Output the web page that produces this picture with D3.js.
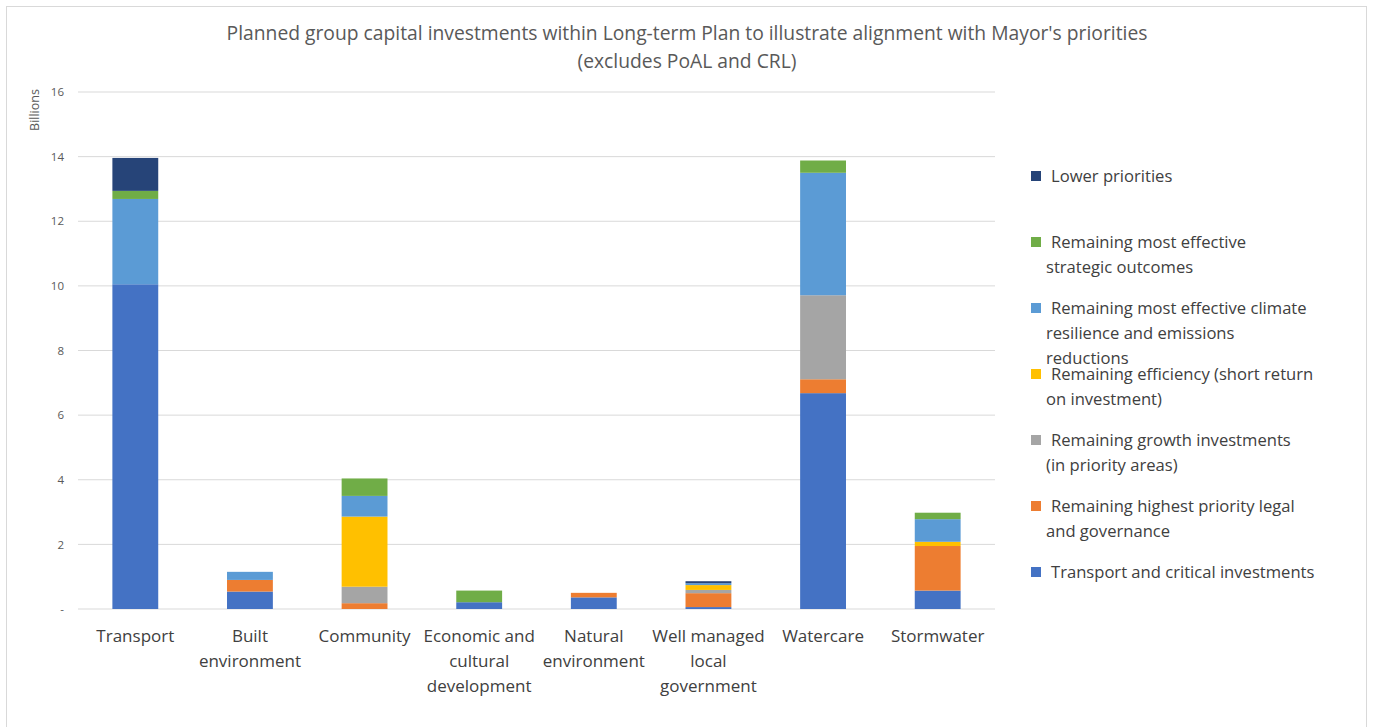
<!DOCTYPE html>
<html>
<head>
<meta charset="utf-8">
<script src="https://cdn.jsdelivr.net/npm/d3@7"></script>
<style>
  body { margin: 0; background: #fff; overflow: hidden; }
  text { font-family: "Open Sans", sans-serif; }
</style>
</head>
<body>
<div id="chart"></div>
<script>
// categories and their wrapped label lines
const categories = ["Transport", "Built environment", "Community", "Economic and cultural development",
  "Natural environment", "Well managed local government", "Watercare", "Stormwater"];
const categoryLines = [["Transport"], ["Built", "environment"], ["Community"], ["Economic and", "cultural", "development"],
  ["Natural", "environment"], ["Well managed", "local", "government"], ["Watercare"], ["Stormwater"]];

// series values (billions), bottom of stack first
const transportCritical = [10.05, 0.54, 0, 0.21, 0.36, 0.06, 6.68, 0.57];
const legalGovernance   = [0, 0.36, 0.18, 0, 0.14, 0.43, 0.43, 1.38];
const growthInvest      = [0, 0, 0.51, 0, 0, 0.10, 2.60, 0];
const efficiency        = [0, 0, 2.17, 0, 0, 0.15, 0, 0.13];
const climateResilience = [2.64, 0.25, 0.64, 0, 0, 0.06, 3.79, 0.70];
const strategicOutcomes = [0.25, 0, 0.54, 0.36, 0, 0, 0.38, 0.20];
const lowerPriorities   = [1.02, 0, 0, 0, 0, 0.06, 0, 0];

const seriesKeys = ["tc", "legal", "growth", "eff", "climate", "strategic", "lower"];
const seriesValues = [transportCritical, legalGovernance, growthInvest, efficiency, climateResilience, strategicOutcomes, lowerPriorities];
const seriesColors = ["#4472C4", "#ED7D31", "#A5A5A5", "#FFC000", "#5B9BD5", "#70AD47", "#264478"];
const legendLines = [
  ["Transport and critical investments"],
  ["Remaining highest priority legal", "and governance"],
  ["Remaining growth investments", "(in priority areas)"],
  ["Remaining efficiency (short return", "on investment)"],
  ["Remaining most effective climate", "resilience and emissions", "reductions"],
  ["Remaining most effective", "strategic outcomes"],
  ["Lower priorities"]
];

const yTicks = [0, 2, 4, 6, 8, 10, 12, 14, 16];

const width = 1373, height = 727;
const margin = { top: 92, right: 378, bottom: 118, left: 78 };
const innerWidth = width - margin.left - margin.right;
const innerHeight = height - margin.top - margin.bottom;

const data = categories.map((c, i) => {
  const row = { cat: c };
  seriesKeys.forEach((k, j) => row[k] = seriesValues[j][i]);
  return row;
});

const svg = d3.select("#chart")
  .append("svg")
    .attr("width", width)
    .attr("height", height)
    .style("display", "block");

// outer frame (bottom edge falls outside the picture)
svg.append("rect")
  .attr("x", 6.5).attr("y", 6.5)
  .attr("width", 1360).attr("height", 730)
  .attr("fill", "none")
  .attr("stroke", "#d9d9d9");

// title
svg.append("text")
  .attr("x", 687).attr("y", 40)
  .attr("text-anchor", "middle")
  .attr("font-size", 19.3)
  .attr("fill", "#595959")
  .selectAll("tspan")
  .data(["Planned group capital investments within Long-term Plan to illustrate alignment with Mayor's priorities", "(excludes PoAL and CRL)"])
  .join("tspan")
    .attr("x", 687)
    .attr("dy", (d, i) => i === 0 ? 0 : 28)
    .text(d => d);

const innerChart = svg.append("g")
  .attr("transform", `translate(${margin.left}, ${margin.top})`);

const xScale = d3.scaleBand()
  .domain(categories)
  .range([0, innerWidth])
  .paddingInner(0.6)
  .paddingOuter(0.3);

const yScale = d3.scaleLinear()
  .domain([0, 16])
  .range([innerHeight, 0]);

// gridlines
innerChart.append("g")
  .selectAll("line")
  .data(yTicks)
  .join("line")
    .attr("x1", 0).attr("x2", innerWidth)
    .attr("y1", d => yScale(d)).attr("y2", d => yScale(d))
    .attr("stroke", "#d9d9d9")
    .attr("stroke-width", 1);

const stackGenerator = d3.stack().keys(seriesKeys);
const annotatedData = stackGenerator(data);

annotatedData.forEach((series, j) => {
  innerChart.append("g")
    .selectAll("rect")
    .data(series.filter(d => d[1] - d[0] > 0))
    .join("rect")
      .attr("x", d => xScale(d.data.cat))
      .attr("y", d => yScale(d[1]))
      .attr("width", xScale.bandwidth())
      .attr("height", d => yScale(d[0]) - yScale(d[1]))
      .attr("fill", seriesColors[j]);
});

// y axis labels
const leftAxis = d3.axisLeft(yScale)
  .tickValues(yTicks)
  .tickSize(0)
  .tickPadding(14)
  .tickFormat(d => d === 0 ? "-" : d);

const yAxisG = innerChart.append("g").call(leftAxis);
yAxisG.select(".domain").remove();
yAxisG.selectAll("text")
  .attr("font-family", "Open Sans, sans-serif")
  .attr("font-size", 11.5)
  .attr("fill", "#595959");

svg.append("text")
  .attr("transform", "translate(39, 110) rotate(-90)")
  .attr("text-anchor", "middle")
  .attr("font-size", 12.5)
  .attr("fill", "#595959")
  .text("Billions");

// x category labels
const xLabels = innerChart.append("g")
  .selectAll("text")
  .data(categories)
  .join("text")
    .attr("x", d => xScale(d) + xScale.bandwidth() / 2)
    .attr("y", innerHeight + 33)
    .attr("text-anchor", "middle")
    .attr("font-size", 17)
    .attr("fill", "#404040");
xLabels.selectAll("tspan")
  .data((d, i) => categoryLines[i])
  .join("tspan")
    .attr("x", function () { return d3.select(this.parentNode).attr("x"); })
    .attr("dy", (d, i) => i === 0 ? 0 : 25)
    .text(d => d);

// legend (top item is the last series)
const legendOrder = d3.range(seriesKeys.length).reverse();
const legend = svg.append("g");
legendOrder.forEach((j, k) => {
  const y0 = 182 + k * 66;
  legend.append("rect")
    .attr("x", 1031).attr("y", y0 - 11)
    .attr("width", 10).attr("height", 10)
    .attr("fill", seriesColors[j]);
  legend.append("text")
    .attr("font-size", 16.6)
    .attr("fill", "#404040")
    .selectAll("tspan")
    .data(legendLines[j])
    .join("tspan")
      .attr("x", (d, i) => i === 0 ? 1051 : 1046)
      .attr("y", (d, i) => y0 + i * 25)
      .text(d => d);
});
</script>
</body>
</html>
